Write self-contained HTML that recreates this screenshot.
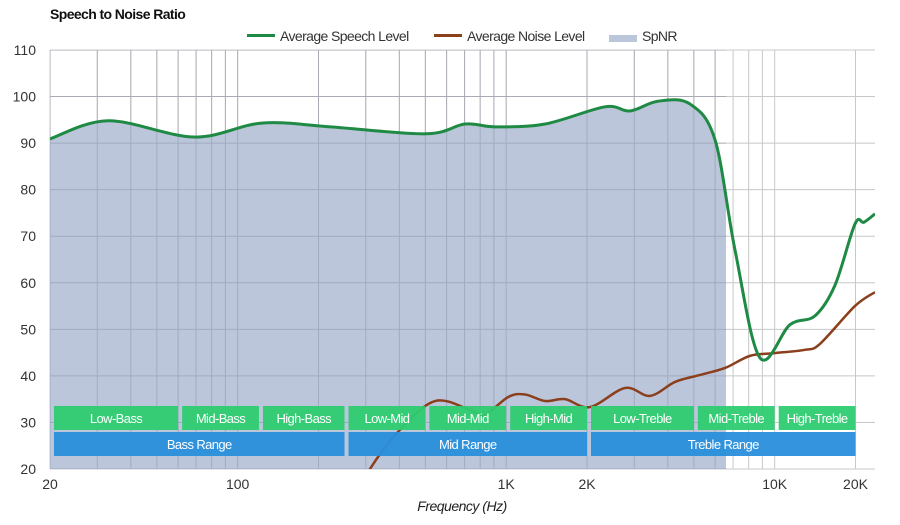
<!DOCTYPE html>
<html><head><meta charset="utf-8"><style>
body{margin:0;background:#fff;font-family:"Liberation Sans",sans-serif;}
svg text{font-family:"Liberation Sans",sans-serif;}
</style></head><body>
<svg id="chart" width="900" height="520" xmlns="http://www.w3.org/2000/svg">
<defs><clipPath id="plotclip"><rect x="50" y="50" width="825" height="419"/></clipPath></defs>
<text x="50" y="19" font-size="14" font-weight="bold" fill="#111" letter-spacing="-0.6">Speech to Noise Ratio</text>
<g id="legend">
<g><rect x="247" y="34" width="28" height="3" fill="#1e8a44"/><text x="280" y="41" font-size="14" fill="#333" letter-spacing="-0.6">Average Speech Level</text></g>
<g><rect x="434" y="34" width="28" height="3" fill="#8b3f1d"/><text x="467" y="41" font-size="14" fill="#333" letter-spacing="-0.6">Average Noise Level</text></g>
<g><rect x="609" y="35" width="28" height="7" fill="#bcc6db"/><text x="642" y="41" font-size="14" fill="#333" letter-spacing="-0.6">SpNR</text></g>
</g>
<g id="grid"></g>
<g id="marks" clip-path="url(#plotclip)"></g>
<g id="bands"></g>
<g id="axes"></g>
<text x="462" y="511" font-size="14" font-style="italic" text-anchor="middle" fill="#222" letter-spacing="-0.5">Frequency (Hz)</text>
</svg>
<script>
const speechFreq=[20,33,69,123,221,502,703,908,1396,2334,2890,3674,4836,5996,7118,8811,11400,14130,16780,19900,21500,23640];
const speechDb=[90.9,94.8,91.3,94.3,93.5,92,94.1,93.5,94.1,97.8,96.9,99,98.4,90.7,67,43.9,51,52.9,59.5,72.6,73,74.8];
const noiseFreq=[240,311,402,543,733,830,1020,1176,1396,1656,2052,2772,3434,4254,5272,6532,8092,10000,12970,14760,19900,23640];
const noiseDb=[8,20,28.4,34.6,32.7,31.6,35.5,36,34.6,35,33.3,37.4,35.7,38.7,40.2,41.7,44.3,44.9,45.6,46.9,55,58];
const spnrEndFreq=6590;
const yTicks=[20,30,40,50,60,70,80,90,100,110];
const xTickVals=[20,100,1000,2000,10000,20000];
const xTickLabels=["20","100","1K","2K","10K","20K"];
const bandsRow1=[["Low-Bass",20,60],["Mid-Bass",60,120],["High-Bass",120,250],["Low-Mid",250,500],["Mid-Mid",500,1000],["High-Mid",1000,2000],["Low-Treble",2000,5000],["Mid-Treble",5000,10000],["High-Treble",10000,20000]];
const bandsRow2=[["Bass Range",20,250],["Mid Range",250,2000],["Treble Range",2000,20000]];

const NS="http://www.w3.org/2000/svg";
const X0=50,X1=875,Y0=469,Y1=50,DEC=268.5;
const xs=f=>X0+Math.log10(f/20)*DEC;
const ys=v=>Y0-(v-20)*(Y0-Y1)/90;
function el(t,a,p){const e=document.createElementNS(NS,t);for(const k in a)e.setAttribute(k,a[k]);p.appendChild(e);return e;}
const grid=document.getElementById('grid'),marks=document.getElementById('marks'),bands=document.getElementById('bands'),axes=document.getElementById('axes');
yTicks.forEach(v=>{const l=el('line',{x1:X0,x2:X1,y1:ys(v),y2:ys(v),stroke:'#c8c8c8','stroke-width':1},grid);


const t=el('text',{x:36,y:ys(v)+5,'font-size':14,'text-anchor':'end',fill:'#333'},axes);t.textContent=v;

});
for(let d=10;d<=10000;d*=10){for(let m=1;m<=9;m++){const f=d*m;if(f<20||f>23000)continue;
const l=el('line',{x1:xs(f),x2:xs(f),y1:Y1,y2:Y0,stroke:'#c8c8c8','stroke-width':1},grid);

}}
xTickVals.forEach((f,i)=>{const t=el('text',{x:xs(f),y:489,'font-size':14,'text-anchor':'middle',fill:'#333'},axes);t.textContent=xTickLabels[i];

});
function pts(fr,db){return fr.map((f,i)=>[xs(f),ys(db[i])]);}
function smooth(p){let d='M'+p[0][0]+','+p[0][1];for(let i=0;i<p.length-1;i++){const a=p[i-1]||p[i],b=p[i],c=p[i+1],e=p[i+2]||c;
const c1=[b[0]+(c[0]-a[0])/6,b[1]+(c[1]-a[1])/6],c2=[c[0]-(e[0]-b[0])/6,c[1]-(e[1]-b[1])/6];
d+=' C'+c1+' '+c2+' '+c;}return d;}
const sp=pts(speechFreq,speechDb);
const clipId='spc';const cp=el('clipPath',{id:clipId},document.querySelector('defs'));el('rect',{x:X0,y:Y1,width:xs(spnrEndFreq)-X0,height:Y0-Y1},cp);
const area=el('path',{d:smooth(sp)+' L'+X1+','+Y0+' L'+X0+','+Y0+' Z',fill:'#bcc6db','clip-path':'url(#spc)'},marks);


// gridlines through area (darker)
const g2=el('g',{'clip-path':'url(#spc)',opacity:0.35},marks);
grid.querySelectorAll('line').forEach(l=>{const c=l.cloneNode();c.setAttribute('stroke','#6d7790');g2.appendChild(c);});
const np=el('path',{d:smooth(pts(noiseFreq,noiseDb)),fill:'none',stroke:'#8b3f1d','stroke-width':2.5},marks);


const spl=el('path',{d:smooth(sp),fill:'none',stroke:'#1e8a44','stroke-width':3},marks);


function band(row,y,col,name){row.forEach(b=>{const x1=xs(b[1])+4,x2=xs(b[2]);
const r=el('rect',{x:x1,y:y,width:x2-x1,height:24,fill:col},bands);


const t=el('text',{x:(x1+x2)/2,y:y+17,'font-size':13,'text-anchor':'middle',fill:'#fff','letter-spacing':'-0.6'},bands);t.textContent=b[0];

});}
band(bandsRow1,406,'rgba(46,204,113,0.95)','frequency-band');
band(bandsRow2,432,'rgba(41,143,220,0.95)','frequency-range');
</script>
</body></html>
